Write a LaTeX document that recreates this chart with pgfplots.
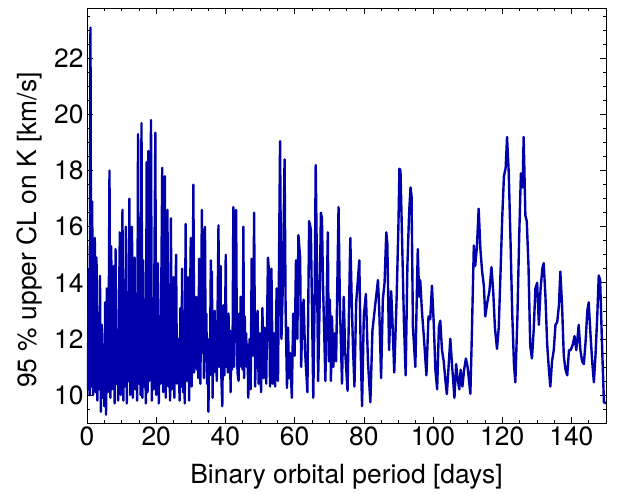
\documentclass[border=0pt]{standalone}
\usepackage{fontspec}
\setmainfont{TeX Gyre Heros}
\usepackage{pgfplots}
\pgfplotsset{compat=1.18}
\usetikzlibrary{calc}
\definecolor{lineblue}{RGB}{0,0,170}
\pgfplotstableread{
x y
0.00 11.0
0.25 10.2
0.50 14.5
0.75 10.0
1.00 23.1
1.25 10.3
1.50 16.9
1.75 10.0
2.00 13.5
2.25 15.6
2.50 10.1
2.75 14.9
3.00 9.8
3.25 12.8
3.50 10.2
3.75 14.25
4.00 9.4
4.25 12.5
4.50 9.9
4.75 11.8
5.00 9.6
5.25 13.3
5.50 9.3
5.75 13.8
6.00 10.1
6.25 12.0
6.50 18.0
6.75 9.9
7.00 15.3
7.25 10.2
7.50 12.6
7.75 14.6
8.00 9.7
8.25 15.2
8.50 10.4
8.75 12.3
9.00 9.8
9.25 13.3
9.50 15.8
9.75 10.0
10.00 12.9
10.25 16.6
10.50 9.8
10.75 14.1
11.00 10.3
11.25 16.0
11.50 9.7
11.75 13.2
12.00 10.5
12.25 17.0
12.50 10.0
12.75 13.8
13.00 16.0
13.25 9.9
13.50 12.4
13.75 14.9
14.00 10.2
14.25 13.6
14.50 9.8
14.75 19.3
15.00 10.4
15.25 14.2
15.50 10.0
15.75 19.7
16.00 9.9
16.25 14.8
16.50 10.3
16.75 13.0
17.00 9.7
17.25 18.3
17.50 10.1
17.75 18.7
18.00 10.5
18.25 14.0
18.50 19.8
18.75 9.8
19.00 13.4
19.25 10.2
19.50 14.8
19.75 19.35
20.00 10.0
20.25 13.9
20.50 14.7
20.75 9.7
21.00 12.8
21.25 10.4
21.50 14.3
21.75 18.1
22.00 10.1
22.25 13.3
22.50 17.8
22.75 9.9
23.00 14.1
23.25 16.6
23.50 10.3
23.75 12.5
24.00 9.8
24.25 16.3
24.50 10.2
24.75 13.7
25.00 14.2
25.25 9.9
25.50 12.9
25.75 15.0
26.00 10.4
26.25 11.6
26.50 12.0
26.75 9.8
27.00 13.1
27.25 10.3
27.50 14.5
27.75 10.1
28.00 12.6
28.25 9.7
28.50 16.1
28.75 10.5
29.00 12.2
29.25 14.2
29.50 9.8
29.75 13.0
30.00 15.6
30.25 10.3
30.50 12.6
30.75 17.5
31.00 10.8
31.20 13.0
31.40 11.05
31.60 13.5
31.80 10.9
32.00 12.1
32.20 10.6
32.40 14.86
32.60 11.8
32.75 10.4
33.00 13.2
33.20 16.6
33.40 11.5
33.60 15.9
33.80 10.6
34.10 16.0
34.30 11.2
34.50 12.9
34.70 10.4
34.90 11.6
35.10 9.4
35.30 12.0
35.50 10.7
35.80 14.8
36.00 11.0
36.10 14.4
36.30 9.9
36.50 12.2
36.70 10.8
36.90 13.0
37.10 11.2
37.30 12.6
37.50 10.5
37.70 12.5
38.00 16.05
38.20 11.0
38.40 12.3
38.60 14.6
38.80 10.8
39.10 9.6
39.30 12.0
39.50 13.2
39.70 10.7
39.90 12.4
40.10 15.0
40.30 11.0
40.50 12.1
40.70 10.8
40.90 12.9
41.10 11.5
41.30 12.3
41.50 10.1
41.70 11.9
41.90 10.9
42.10 12.3
42.30 16.7
42.50 11.0
42.70 14.0
42.90 11.9
43.10 16.6
43.30 12.1
43.50 10.8
43.80 10.5
44.00 12.9
44.20 11.3
44.40 13.5
44.60 11.0
44.80 12.8
45.00 10.9
45.20 16.0
45.40 10.6
45.60 12.8
45.80 11.3
46.00 12.2
46.20 11.0
46.40 11.8
46.60 9.9
47.00 12.0
47.30 10.2
47.60 14.86
48.00 11.4
48.30 16.5
48.60 10.3
49.00 12.5
49.30 13.0
49.60 10.4
50.00 12.2
50.30 10.1
50.70 13.1
51.00 10.6
51.40 12.4
51.80 10.4
52.30 14.9
52.60 14.4
52.90 10.3
53.30 14.5
53.70 10.4
54.00 12.2
54.40 10.3
54.80 13.8
55.20 10.5
55.80 19.05
56.20 12.0
56.60 13.9
57.10 18.4
57.40 13.1
57.80 10.25
58.10 12.4
58.40 10.6
58.70 11.5
59.20 9.9
59.60 12.9
60.00 11.4
60.40 14.8
60.80 12.0
61.10 15.7
61.60 14.9
61.90 11.0
62.20 12.6
62.60 13.4
63.00 11.6
63.70 10.1
64.20 16.2
64.70 15.9
65.40 9.9
65.80 13.5
66.10 18.2
66.50 14.2
66.80 10.5
67.20 13.0
67.60 16.5
67.90 16.3
68.20 14.0
68.90 10.5
69.60 15.8
69.90 11.2
70.20 13.4
70.50 10.5
70.80 12.8
71.20 11.0
71.60 12.2
72.00 11.2
72.70 16.7
73.10 13.2
73.70 10.4
74.20 13.5
74.60 11.6
75.30 10.15
76.10 15.6
76.50 13.4
76.90 11.6
77.30 10.3
77.80 13.3
78.70 14.8
79.10 11.6
79.50 9.6
80.00 12.8
80.60 13.6
81.20 11.2
81.90 9.74
82.50 12.3
83.20 13.1
84.10 14.1
84.50 12.9
85.00 10.6
85.50 13.4
86.00 14.0
86.50 15.8
86.80 15.4
87.30 11.6
87.90 13.7
88.20 12.9
88.80 10.8
89.50 13.5
90.00 16.0
90.30 18.07
90.60 18.0
91.00 15.9
91.60 12.6
92.10 10.7
92.60 14.6
93.10 16.5
93.50 17.4
93.80 17.1
94.20 12.4
94.90 11.0
95.60 15.2
96.00 13.5
96.30 14.1
96.80 13.0
97.40 12.0
98.10 10.7
98.70 12.8
99.20 12.7
99.70 13.9
100.20 12.6
100.70 10.9
101.20 10.2
101.70 12.4
102.10 12.65
102.60 11.6
103.10 11.2
103.60 10.5
104.00 10.03
104.50 11.0
105.00 12.0
105.60 10.9
106.20 9.9
106.70 11.1
107.10 10.6
107.60 10.2
108.00 10.9
108.50 10.3
109.00 10.9
109.50 11.3
110.00 11.0
110.80 10.04
111.20 12.0
111.80 15.33
112.20 14.6
112.70 15.3
113.20 16.64
113.70 15.2
114.20 14.4
114.70 13.9
115.10 12.8
115.70 13.3
116.30 13.7
116.90 14.56
117.40 13.7
117.90 12.4
118.50 11.64
119.00 12.4
119.50 14.3
120.00 16.3
120.50 17.8
121.00 18.1
121.40 19.2
121.90 17.9
122.40 15.5
122.90 12.9
123.40 11.1
123.80 10.45
124.40 12.8
124.90 15.6
125.40 17.9
125.90 17.4
126.20 19.2
126.70 16.4
127.10 16.2
127.60 14.6
128.10 11.76
128.60 11.3
129.10 12.3
129.60 13.8
130.10 14.0
130.60 12.5
131.10 13.8
131.60 14.5
132.00 14.7
132.50 13.5
133.00 11.8
133.50 10.9
133.90 10.3
134.40 11.2
134.90 11.6
135.40 12.5
135.90 12.6
136.40 13.2
136.80 14.4
137.30 13.2
137.80 11.4
138.30 10.9
138.80 10.7
139.30 11.6
139.80 11.6
140.40 11.8
140.90 12.1
141.40 11.6
141.90 12.2
142.10 12.5
142.60 11.6
143.10 11.2
143.60 11.1
144.10 11.9
144.60 13.0
145.00 13.3
145.50 12.2
146.00 11.2
146.50 10.45
147.00 11.5
147.50 12.9
147.90 14.26
148.30 14.1
148.80 12.0
149.40 9.74
150.00 9.7
}\datatable
\begin{document}
\begin{tikzpicture}
\begin{axis}[
  scale only axis,
  width=519bp, height=415bp,
  xmin=0, xmax=150, ymin=9, ymax=23.8,
  xtick={0,20,...,140}, ytick={10,12,...,22},
  minor xtick={0,5,...,150}, minor ytick={9,9.5,...,23.5},
  tick align=inside,
  major tick length=6bp, minor tick length=3.5bp,
  every tick/.style={black, line width=0.6pt},
  axis line style={black, line width=0.8pt},
  /pgf/number format/assume math mode=true,
  tick label style={font=\fontsize{26.5}{30}\selectfont},
  label style={font=\fontsize{26.5}{30}\selectfont},
  xlabel={Binary orbital period [days]},
  ylabel={95 \% upper CL on K [km/s]},
  xlabel style={at={(axis description cs:0.5,-0.145)}, anchor=base},
  ylabel style={at={(axis description cs:-0.110,0.465)}, anchor=center, rotate=0},
  clip=true,
]
\addplot[color=lineblue, line width=2.4pt, line join=round] table[x=x,y=y] {\datatable};
\coordinate (SW) at (rel axis cs:0,0);
\coordinate (NE) at (rel axis cs:1,1);
\end{axis}
\pgfresetboundingbox
\path ($(SW)+(-87bp,-71bp)$) rectangle ($(NE)+(12bp,8bp)$);
\end{tikzpicture}
\end{document}
